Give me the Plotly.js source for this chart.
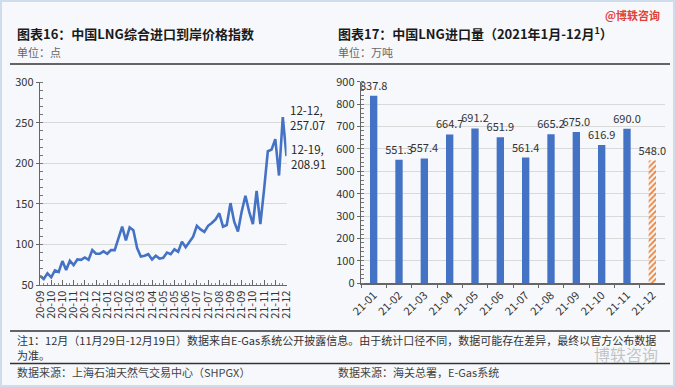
<!DOCTYPE html>
<html><head><meta charset="utf-8">
<script src="https://cdn.plot.ly/plotly-3.0.1.min.js"></script>
<style>html,body{margin:0;padding:0;background:#f6f8fb;}#chart{width:675px;height:387px;}</style>
</head><body><div id="chart"></div>
<script>
// Left chart: weekly LNG import price index (2020-09-13 .. 2021-12-19)
const priceIndex = [61.5, 57.5, 64.5, 59.5, 68, 66, 79.5, 68.5, 80, 74.5,
  81.5, 81, 84, 81, 93, 88.5, 88.5, 91.5, 88.5, 93,
  93, 107.5, 122, 105, 121, 117.5, 95.5, 85, 86, 88,
  81.5, 86, 82.5, 83.5, 90, 88, 94, 91, 103.5, 96.5,
  103.5, 109.5, 123, 118.5, 115.5, 123, 126.5, 131, 138.5, 122,
  124, 151, 128, 116, 140.5, 160, 140.5, 125, 166, 125,
  168, 215, 217, 230, 185, 257.07, 208.91];
const priceTickLabels = ['20-09','20-10','20-10','20-11','20-12','20-12','21-01','21-02','21-02','21-03','21-04','21-05',
  '21-05','21-06','21-07','21-07','21-08','21-09','21-09','21-10','21-11','21-11','21-12'];
const priceNotes = [{week: 65, label: '12-12,<br>257.07'}, {week: 66, label: '12-19,<br>208.91'}];

// Right chart: monthly LNG imports 2021 (10k tonnes)
const months = ['21-01','21-02','21-03','21-04','21-05','21-06','21-07','21-08','21-09','21-10','21-11','21-12'];
const imports = [837.8, 551.3, 557.4, 664.7, 691.2, 651.9, 561.4, 665.2, 675.0, 616.9, 690.0, 548.0];

const weeks = priceIndex.map((_, i) => i);
const tickWeeks = priceTickLabels.map((_, i) => i * 3);

const BLUE = '#4472C4', ORANGE = '#ED7D31';
const F = '"Noto Sans CJK SC", "Noto Sans", sans-serif';
const W = 675, H = 387;
const px = x => x / W, py = y => 1 - y / H;

const traces = [
  {x: weeks, y: priceIndex, type: 'scatter', mode: 'lines', xaxis: 'x', yaxis: 'y',
   line: {color: BLUE, width: 2.6}, hoverinfo: 'skip'},
  {x: months, y: imports, type: 'bar', xaxis: 'x2', yaxis: 'y2', width: 0.29,
   marker: {color: months.map((m, i) => i === months.length - 1 ? ORANGE : BLUE),
            pattern: {shape: months.map((m, i) => i === months.length - 1 ? '/' : ''),
                      bgcolor: '#ffffff', size: 4, solidity: 0.45}},
   text: imports.map(v => v.toFixed(1)), textposition: 'outside', cliponaxis: false,
   constraintext: 'none', textfont: {family: F, size: 11, color: '#333'}, hoverinfo: 'skip'}
];

const annotations = [
  {text: '<b>图表16：中国LNG综合进口到岸价格指数</b>', x: px(15), y: py(33), xref: 'paper', yref: 'paper',
   xanchor: 'left', yanchor: 'middle', showarrow: false, font: {family: F, size: 13, color: '#1a1a1a'}},
  {text: '单位：点', x: px(15), y: py(52), xref: 'paper', yref: 'paper',
   xanchor: 'left', yanchor: 'middle', showarrow: false, font: {family: F, size: 11, color: '#666'}},
  {text: '<b>图表17：中国LNG进口量（2021年1月-12月<sup>1</sup>）</b>', x: px(336), y: py(33), xref: 'paper', yref: 'paper',
   xanchor: 'left', yanchor: 'middle', showarrow: false, font: {family: F, size: 13, color: '#1a1a1a'}},
  {text: '单位：万吨', x: px(336), y: py(52), xref: 'paper', yref: 'paper',
   xanchor: 'left', yanchor: 'middle', showarrow: false, font: {family: F, size: 11, color: '#666'}},
  {text: '<b>@博轶咨询</b>', x: px(662), y: py(15), xref: 'paper', yref: 'paper',
   xanchor: 'right', yanchor: 'middle', showarrow: false, font: {family: F, size: 11, color: '#e0403a'}},
  {text: '注1：12月（11月29日-12月19日）数据来自E-Gas系统公开披露信息。由于统计口径不同，数据可能存在差异，最终以官方公布数据',
   x: px(15), y: py(339.5), xref: 'paper', yref: 'paper',
   xanchor: 'left', yanchor: 'middle', showarrow: false, font: {family: F, size: 11, color: '#333'}},
  {text: '为准。', x: px(15), y: py(354.5), xref: 'paper', yref: 'paper',
   xanchor: 'left', yanchor: 'middle', showarrow: false, font: {family: F, size: 11, color: '#333'}},
  {text: '数据来源：上海石油天然气交易中心（SHPGX）', x: px(15), y: py(372), xref: 'paper', yref: 'paper',
   xanchor: 'left', yanchor: 'middle', showarrow: false, font: {family: F, size: 11, color: '#444'}},
  {text: '数据来源：海关总署，E-Gas系统', x: px(336), y: py(372), xref: 'paper', yref: 'paper',
   xanchor: 'left', yanchor: 'middle', showarrow: false, font: {family: F, size: 11, color: '#444'}},
  {text: '博轶咨询', x: px(660), y: py(354), xref: 'paper', yref: 'paper',
   xanchor: 'right', yanchor: 'middle', showarrow: false, font: {family: F, size: 16, color: 'rgba(160,160,160,0.6)'}}
];
priceNotes.forEach(n => annotations.push({
  text: n.label, x: n.week, y: priceIndex[n.week], xref: 'x', yref: 'y', xanchor: 'left', yanchor: 'middle',
  xshift: n.week === 65 ? 5 : 2, align: 'left', showarrow: false, font: {family: F, size: 11.5, color: '#262626'}
}));

const shapes = [
  {type: 'rect', xref: 'paper', yref: 'paper', x0: 0, x1: 1, y0: 0, y1: 1, line: {color: '#cfdcec', width: 4}},
  {type: 'line', xref: 'paper', yref: 'paper', x0: px(10), x1: px(670), y0: py(64), y1: py(64), line: {color: '#333', width: 1.3}},
  {type: 'line', xref: 'paper', yref: 'paper', x0: px(10), x1: px(670), y0: py(331), y1: py(331), line: {color: '#333', width: 1.3}},
  {type: 'line', xref: 'paper', yref: 'paper', x0: px(10), x1: px(670), y0: py(363.5), y1: py(363.5), line: {color: '#333', width: 1.3}}
];

const axisFont = {family: F, size: 11, color: '#333'};
const layout = {
  width: W, height: H, margin: {l: 0, r: 0, t: 0, b: 0},
  paper_bgcolor: '#f6f8fb', plot_bgcolor: 'rgba(0,0,0,0)', showlegend: false,
  xaxis: {domain: [px(40), px(286.5)], range: [0, 66], anchor: 'y', tickvals: tickWeeks, ticktext: priceTickLabels,
          tickangle: -90, tickfont: {family: F, size: 11, color: '#333'}, showgrid: false, zeroline: false,
          showline: true, linecolor: '#666', linewidth: 1.2, ticks: 'inside', ticklen: 5, tickcolor: '#666',
          minor: {ticks: 'inside', ticklen: 2, dtick: 1, tickcolor: '#888', showgrid: false}},
  yaxis: {domain: [py(285), py(82.3)], range: [50, 300], dtick: 50, anchor: 'x', tickfont: axisFont,
          showgrid: true, gridcolor: '#d9d9d9', gridwidth: 1, zeroline: false,
          showline: true, linecolor: '#666', linewidth: 1.2, ticks: 'outside', ticklen: 3, tickcolor: '#666',
          minor: {ticks: 'inside', ticklen: 3, dtick: 10, tickcolor: '#777', showgrid: false}},
  xaxis2: {domain: [px(361), px(665)], type: 'category', anchor: 'y2', tickangle: -45,
           tickfont: {family: F, size: 11, color: '#333'},
           showgrid: false, zeroline: false, showline: true, linecolor: '#666', linewidth: 1.2,
           ticks: 'outside', tickson: 'boundaries', ticklen: 3, tickcolor: '#666'},
  yaxis2: {domain: [py(283.3), py(81.7)], range: [0, 900], dtick: 100, anchor: 'x2', tickfont: axisFont,
           showgrid: true, gridcolor: '#d9d9d9', gridwidth: 1, zeroline: false,
           showline: true, linecolor: '#666', linewidth: 1.2, ticks: 'outside', ticklen: 3, tickcolor: '#666',
           minor: {ticks: 'inside', ticklen: 3, dtick: 20, tickcolor: '#777', showgrid: false}},
  annotations: annotations, shapes: shapes
};

Plotly.newPlot('chart', traces, layout, {displayModeBar: false, staticPlot: true});
</script></body></html>
